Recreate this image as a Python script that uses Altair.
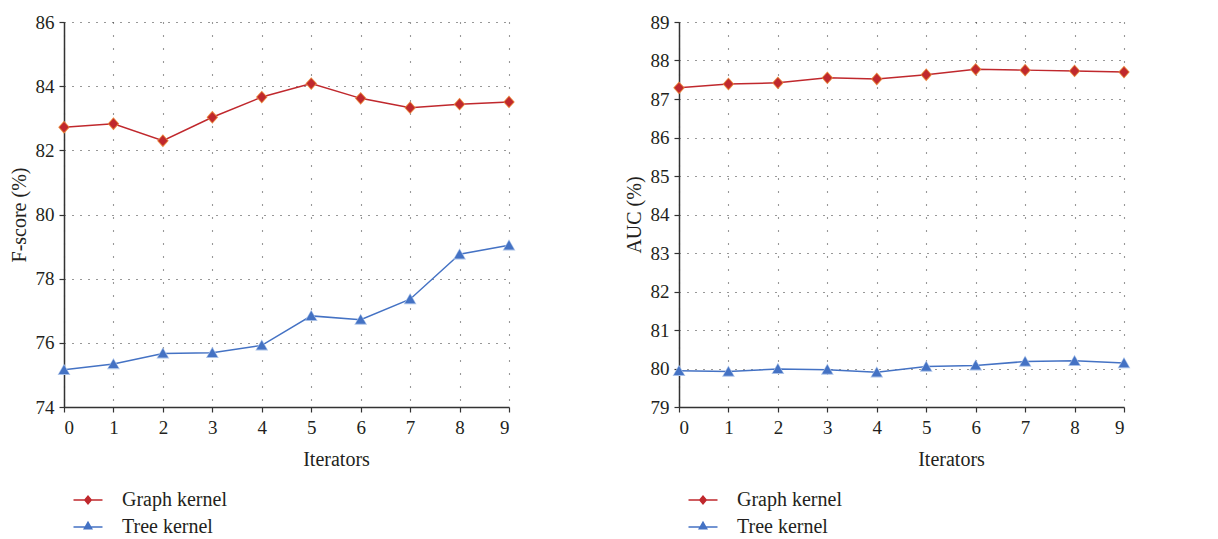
import altair as alt
import pandas as pd

# ---------------- data ----------------
iterations = list(range(10))
series_names = ["Graph kernel", "Tree kernel"]
fscore_graph = [82.72, 82.83, 82.30, 83.03, 83.66, 84.08, 83.62, 83.33, 83.44, 83.51]
fscore_tree = [75.16, 75.34, 75.67, 75.69, 75.92, 76.84, 76.72, 77.36, 78.76, 79.04]
auc_graph = [87.29, 87.39, 87.42, 87.55, 87.52, 87.63, 87.77, 87.75, 87.73, 87.70]
auc_tree = [79.94, 79.92, 79.99, 79.97, 79.90, 80.05, 80.08, 80.18, 80.20, 80.14]
x_ticks = list(range(10))
fscore_ticks = [74, 76, 78, 80, 82, 84, 86]
auc_ticks = list(range(79, 90))

# ---------------- style ----------------
FONT = "Liberation Serif"
TXT = "#231F20"
line_colors = ["#C0282D", "#4472C4"]
marker_fills = ["#C0282D", "#4472C4"]
marker_edges = ["#E8843C", "#A9C1E8"]
marker_shapes = [
    "M0,-1L0.9,0L0,1L-0.9,0Z",
    "M0,-0.95L1,0.8L-1,0.8Z",
]
legend_shapes = [
    "M-1.45,-0.07H1.45V0.07H-1.45Z M0,-0.5L0.42,0L0,0.5L-0.42,0Z",
    "M-1.45,-0.07H1.45V0.07H-1.45Z M0,-0.62L0.5,0.25L-0.5,0.25Z",
]
legend_rows_y = [468, 495]


def make_df(g, t):
    rows = []
    for name, vals in zip(series_names, [g, t]):
        for i, v in zip(iterations, vals):
            rows.append({"iter": i, "value": v, "series": name})
    return pd.DataFrame(rows)


def panel(g, t, ytitle, ydomain, yticks):
    df = make_df(g, t)
    x = alt.X(
        "iter:Q",
        scale=alt.Scale(domain=[0, 9], nice=False, zero=False),
        axis=alt.Axis(
            values=x_ticks, title="Iterators", titleX=272, titlePadding=12,
            grid=True, gridDash=[1, 12], gridColor="#333", gridWidth=1.1,
            tickSize=5, labelPadding=6,
        ),
    )
    y = alt.Y(
        "value:Q",
        scale=alt.Scale(domain=ydomain, nice=False, zero=False),
        axis=alt.Axis(
            values=yticks, title=ytitle, titlePadding=6,
            grid=True, gridDash=[1, 7], gridColor="#333", gridWidth=1.1,
            tickSize=5, labelPadding=5,
        ),
    )
    lines = alt.Chart(df).mark_line(strokeWidth=1.5).encode(
        x=x, y=y,
        color=alt.Color("series:N", scale=alt.Scale(domain=series_names, range=line_colors), legend=None),
    )
    layers = [lines]
    for name, shp, fill, edge, lshape, ly in zip(series_names, marker_shapes, marker_fills,
                                                   marker_edges, legend_shapes, legend_rows_y):
        base = alt.Chart(df).transform_filter(alt.datum.series == name)
        # light outline underneath
        layers.append(
            base.mark_point(filled=True, size=165, opacity=1, strokeWidth=0, shape=shp, color=edge)
            .encode(x=x, y=y)
        )
        # marker body, carrying a one-entry legend
        layers.append(
            base.mark_point(filled=True, size=105, opacity=1, strokeWidth=0, shape=shp)
            .encode(
                x=x, y=y,
                fill=alt.Fill(
                    "series:N",
                    scale=alt.Scale(domain=[name], range=[fill]),
                    legend=alt.Legend(
                        title=None, orient="none", legendX=14, legendY=ly, padding=0,
                        direction="vertical", labelOffset=24, symbolSize=400,
                        symbolType=lshape, symbolStrokeWidth=0, symbolOpacity=1,
                        labelFont=FONT, labelFontSize=20, labelColor=TXT,
                    ),
                ),
            )
        )
    return alt.layer(*layers).resolve_scale(fill="independent").properties(width=445, height=385)


left = panel(fscore_graph, fscore_tree, "F-score (%)", [74, 86], fscore_ticks)
right = panel(auc_graph, auc_tree, "AUC (%)", [79, 89], auc_ticks)
chart = alt.hconcat(left, right, spacing=108).resolve_scale(
    color="independent", fill="independent"
).configure_view(stroke=None).configure_axis(
    labelFont=FONT, labelFontSize=19, labelColor=TXT,
    titleFont=FONT, titleFontSize=20, titleColor=TXT, titleFontWeight="normal",
    domainColor="#333", domainWidth=1.5, tickColor="#333", tickWidth=1.2,
).properties(padding={"left": 1, "top": 5, "right": 5, "bottom": 0})

chart.save("out.html", embed_options={"renderer": "svg", "actions": False})
